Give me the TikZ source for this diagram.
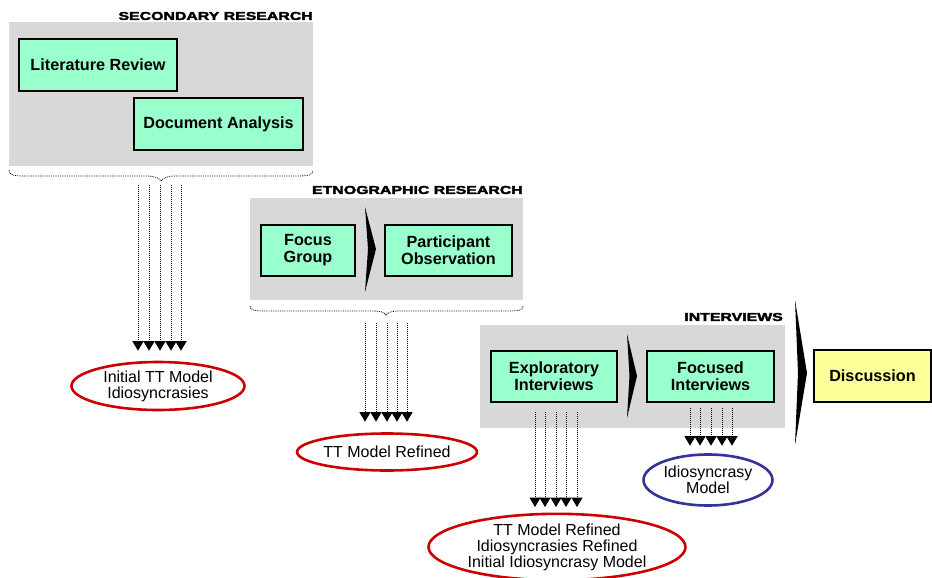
\documentclass[tikz,border=0pt]{standalone}
\usepackage{fontspec}
\setmainfont{Liberation Sans}
\newfontfamily\heavyfont{Liberation Sans}[BoldFeatures={FakeBold=2.5}]
\usetikzlibrary{shapes.geometric,arrows.meta,calc}
\definecolor{mint}{RGB}{153,255,204}
\definecolor{paleyellow}{RGB}{255,255,153}
\definecolor{ovalred}{RGB}{204,0,0}
\definecolor{ovalblue}{RGB}{51,51,153}
\definecolor{panelgray}{RGB}{216,216,216}
\tikzset{
  panel/.style={fill=panelgray, draw=none, inner sep=0pt},
  paneltitle/.style={anchor=east, inner sep=0pt, font=\heavyfont\bfseries\fontsize{11.5}{12}\selectfont},
  procbox/.style={draw=black, line width=2.4pt, fill=mint, inner sep=0pt, align=center,
    font=\bfseries\fontsize{16.2}{17}\selectfont},
  outcome/.style={ellipse, draw, line width=2.6pt, fill=white, inner sep=0pt, align=center,
    font=\fontsize{16}{16}\selectfont},
  flow/.style={densely dotted, line width=1pt, -{Triangle[width=11pt,length=9.5pt]}},
  bracepath/.style={densely dotted, line width=0.8pt},
  chevron/.style={fill=black, draw=none}
}
\begin{document}
\begin{tikzpicture}[x=1pt,y=-1pt]
\useasboundingbox (0,0) rectangle (932,578);

% ---------- panels ----------
\node[panel, minimum width=304pt, minimum height=144pt] (p1) at (161,94) {};
\node[panel, minimum width=273pt, minimum height=102pt] (p2) at (386.5,249) {};
\node[panel, minimum width=305pt, minimum height=103pt] (p3) at (632.5,376.5) {};

\node[paneltitle] (t1) at (313,16) {\scalebox{1.38}[1]{SECONDARY RESEARCH}};
\node[paneltitle] (t2) at (523,190) {\scalebox{1.38}[1]{ETNOGRAPHIC RESEARCH}};
\node[paneltitle] (t3) at (783,317) {\scalebox{1.38}[1]{INTERVIEWS}};

% ---------- boxes ----------
\node[procbox, minimum width=158pt, minimum height=52pt] (lit) at (98,65) {Literature Review};
\node[procbox, minimum width=169pt, minimum height=52pt] (doc) at (218.5,124) {Document Analysis};
\node[procbox, minimum width=94pt, minimum height=51pt] (fg) at (308,250.5) {Focus\\Group};
\node[procbox, minimum width=127pt, minimum height=51pt] (po) at (448.5,250.5) {Participant\\Observation};
\node[procbox, minimum width=126pt, minimum height=51pt] (ei) at (554,376.5) {Exploratory\\Interviews};
\node[procbox, minimum width=127pt, minimum height=51pt] (fi) at (710.5,376.5) {Focused\\Interviews};
\node[procbox, fill=paleyellow, minimum width=117pt, minimum height=52pt] (disc) at (872.5,376) {Discussion};

% ---------- chevrons ----------
\fill[chevron] (365,207) -- (376,249) -- (365,292) -- (368,249) -- cycle;
\fill[chevron] (627,334) -- (637,376) -- (627,418) -- (629.5,376) -- cycle;
\fill[chevron] (795,300) -- (807,373) -- (795,445) -- (798,373) -- cycle;

% ---------- braces ----------
\draw[bracepath] (9,170) .. controls (9,175) and (13,176) .. (25,176) -- (146,176)
  .. controls (155,176) and (159,178) .. (161,181)
  .. controls (163,178) and (167,176) .. (176,176) -- (297,176)
  .. controls (309,176) and (313,175) .. (313,170);
\draw[bracepath] (250,306) .. controls (250,310) and (254,311) .. (265,311) -- (372,311)
  .. controls (380,311) and (384,312) .. (386,315)
  .. controls (388,312) and (392,311) .. (400,311) -- (508,311)
  .. controls (519,311) and (523,310) .. (523,306);

% ---------- outcomes ----------
\node[outcome, draw=ovalred, minimum width=173pt, minimum height=48pt] (e1) at (158,386) {Initial TT Model\\Idiosyncrasies};
\node[outcome, draw=ovalred, minimum width=166pt, minimum height=37pt] (e2) at (387,452) {TT Model Refined};
\node[outcome, draw=ovalred, minimum width=257pt, minimum height=63pt] (e3) at (557,547) {TT Model Refined\\Idiosyncrasies Refined\\Initial Idiosyncrasy Model};
\node[outcome, draw=ovalblue, minimum width=129pt, minimum height=51pt] (e4) at (708,480) {Idiosyncrasy\\Model};

% ---------- flow arrows ----------
\foreach \x [count=\i] in {138,149,160,171,181} {
  \coordinate (a\i) at (\x,185);
  \draw[flow, shorten >=10pt] (a\i) -- (a\i |- e1.north);
}
\foreach \x [count=\i] in {365,376,387,397,407} {
  \coordinate (b\i) at (\x,323);
  \draw[flow, shorten >=10.5pt] (b\i) -- (b\i |- e2.north);
}
\foreach \x [count=\i] in {535,545,556,566,577} {
  \coordinate (c\i) at (\x,412);
  \draw[flow, shorten >=5.5pt] (c\i) -- (c\i |- e3.north);
}
\foreach \x [count=\i] in {690,700,711,722,732} {
  \coordinate (d\i) at (\x,408);
  \draw[flow, shorten >=7.5pt] (d\i) -- (d\i |- e4.north);
}
\end{tikzpicture}
\end{document}
